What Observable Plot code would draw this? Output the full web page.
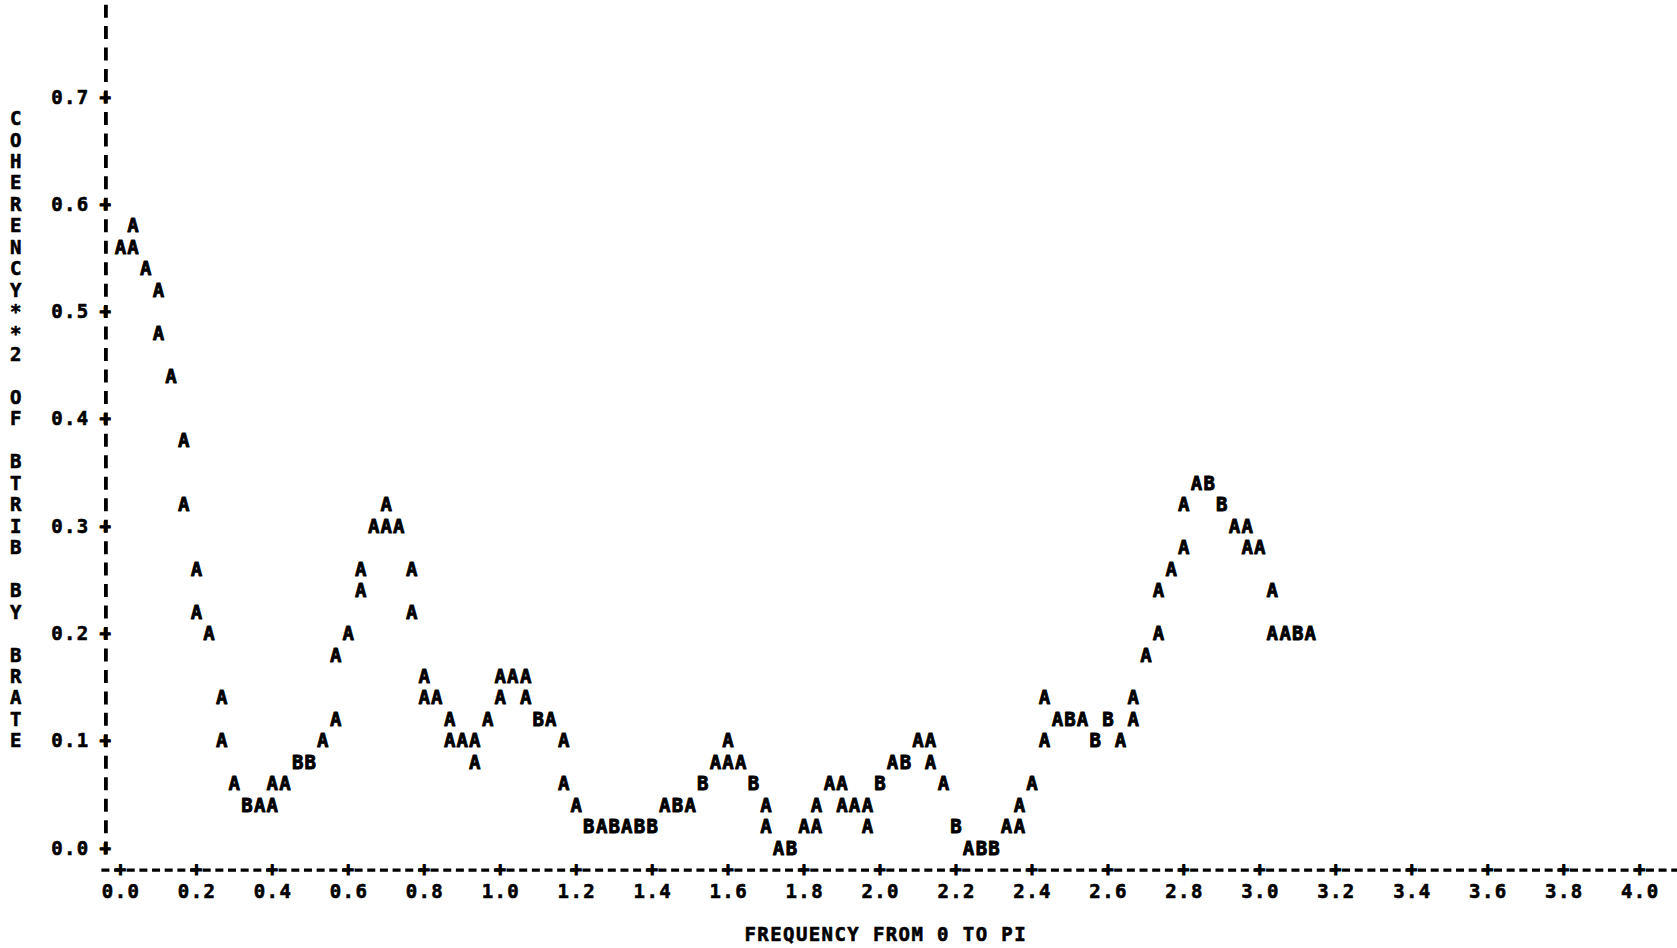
<!DOCTYPE html>
<html>
<head>
<meta charset="utf-8">
<script src="https://cdn.jsdelivr.net/npm/d3@7"></script>
<script src="https://cdn.jsdelivr.net/npm/@observablehq/plot@0.6"></script>
<style>
  html, body { margin: 0; padding: 0; background: #fff; }
  #chart svg { display: block; }
  #chart svg text { letter-spacing: 1.4px; }
</style>
</head>
<body>
<div id="chart"></div>
<script>
// Printer-plot cells: frequency (radians), coherency**2, number of observations in the cell (A = 1 obs, B = 2 obs)
const frequency = [
  0.000, 0.033, 0.033, 0.067, 0.100, 0.100, 0.133, 0.167, 0.167, 0.200,
  0.200, 0.233, 0.267, 0.267, 0.300, 0.333, 0.367, 0.400, 0.400, 0.433,
  0.467, 0.500, 0.533, 0.567, 0.567, 0.600, 0.633, 0.633, 0.667, 0.700,
  0.700, 0.733, 0.767, 0.767, 0.800, 0.800, 0.833, 0.867, 0.867, 0.900,
  0.933, 0.933, 0.967, 1.000, 1.000, 1.033, 1.067, 1.067, 1.100, 1.133,
  1.167, 1.167, 1.200, 1.233, 1.267, 1.300, 1.333, 1.367, 1.400, 1.433,
  1.467, 1.500, 1.533, 1.567, 1.600, 1.600, 1.633, 1.667, 1.700, 1.700,
  1.733, 1.767, 1.800, 1.833, 1.833, 1.867, 1.900, 1.900, 1.933, 1.967,
  1.967, 2.000, 2.033, 2.067, 2.100, 2.133, 2.133, 2.167, 2.200, 2.233,
  2.267, 2.300, 2.333, 2.367, 2.367, 2.400, 2.433, 2.433, 2.467, 2.500,
  2.533, 2.567, 2.600, 2.633, 2.667, 2.667, 2.700, 2.733, 2.733, 2.767,
  2.800, 2.800, 2.833, 2.867, 2.900, 2.933, 2.967, 2.967, 3.000, 3.033,
  3.033, 3.067, 3.100, 3.133
];
const coherency2 = [
  0.56, 0.58, 0.56, 0.54, 0.52, 0.48, 0.44, 0.38, 0.32, 0.26,
  0.22, 0.20, 0.14, 0.10, 0.06, 0.04, 0.04, 0.06, 0.04, 0.06,
  0.08, 0.08, 0.10, 0.18, 0.12, 0.20, 0.26, 0.24, 0.30, 0.32,
  0.30, 0.30, 0.26, 0.22, 0.16, 0.14, 0.14, 0.12, 0.10, 0.10,
  0.10, 0.08, 0.12, 0.16, 0.14, 0.16, 0.16, 0.14, 0.12, 0.12,
  0.10, 0.06, 0.04, 0.02, 0.02, 0.02, 0.02, 0.02, 0.02, 0.04,
  0.04, 0.04, 0.06, 0.08, 0.10, 0.08, 0.08, 0.06, 0.04, 0.02,
  0.00, 0.00, 0.02, 0.04, 0.02, 0.06, 0.06, 0.04, 0.04, 0.04,
  0.02, 0.06, 0.08, 0.08, 0.10, 0.10, 0.08, 0.06, 0.02, 0.00,
  0.00, 0.00, 0.02, 0.04, 0.02, 0.06, 0.14, 0.10, 0.12, 0.12,
  0.12, 0.10, 0.12, 0.10, 0.14, 0.12, 0.18, 0.24, 0.20, 0.26,
  0.32, 0.28, 0.34, 0.34, 0.32, 0.30, 0.30, 0.28, 0.28, 0.24,
  0.20, 0.20, 0.20, 0.20
];
const obsCount = [
  1, 1, 1, 1, 1, 1, 1, 1, 1, 1,
  1, 1, 1, 1, 1, 2, 1, 1, 1, 1,
  2, 2, 1, 1, 1, 1, 1, 1, 1, 1,
  1, 1, 1, 1, 1, 1, 1, 1, 1, 1,
  1, 1, 1, 1, 1, 1, 1, 1, 2, 1,
  1, 1, 1, 2, 1, 2, 1, 2, 2, 1,
  2, 1, 2, 1, 1, 1, 1, 2, 1, 1,
  1, 2, 1, 1, 1, 1, 1, 1, 1, 1,
  1, 2, 1, 2, 1, 1, 1, 1, 2, 1,
  2, 2, 1, 1, 1, 1, 1, 1, 1, 2,
  1, 2, 2, 1, 1, 1, 1, 1, 1, 1,
  1, 1, 1, 2, 2, 1, 1, 1, 1, 1,
  1, 1, 2, 1
];
const plotSymbols = ["A", "B"];

const xTicks = [0.0, 0.2, 0.4, 0.6, 0.8, 1.0, 1.2, 1.4, 1.6, 1.8, 2.0, 2.2, 2.4, 2.6, 2.8, 3.0, 3.2, 3.4, 3.6, 3.8, 4.0];
const xTickLabels = ["0.0", "0.2", "0.4", "0.6", "0.8", "1.0", "1.2", "1.4", "1.6", "1.8", "2.0", "2.2", "2.4", "2.6", "2.8", "3.0", "3.2", "3.4", "3.6", "3.8", "4.0"];
const yTicks = [0.0, 0.1, 0.2, 0.3, 0.4, 0.5, 0.6, 0.7];
const yTickLabels = ["0.0", "0.1", "0.2", "0.3", "0.4", "0.5", "0.6", "0.7"];
const xTitle = "FREQUENCY FROM 0 TO PI";
const yTitle = "COHERENCY**2 OF BTRIB BY BRATE";

// printer grid: one column = 1/30 in x, one row = 0.02 in y
const COL = 1 / 30, ROW = 0.02;
const FONT = "'DejaVu Sans Mono', 'Liberation Mono', monospace";

const cells = frequency.map((f, i) => ({f, c: coherency2[i], sym: plotSymbols[obsCount[i] - 1]}));
const xTickData = xTicks.map((v, i) => ({v, label: xTickLabels[i]}));
const yTickData = yTicks.map((v, i) => ({v, label: yTickLabels[i]}));
const yTitleChars = Array.from(yTitle).map((ch, i) => ({ch, row: i}));

const axisX = -1.2 * COL;          // column holding the vertical axis
const axisRowY = -ROW;             // row holding the horizontal axis
const rowPx = 0.02 * (848.1 - 97.0) / 0.7;

const textBase = {fontFamily: FONT, fontSize: 19, fontWeight: "bold", fill: "black"};

const chart = Plot.plot({
  width: 1677,
  height: 948,
  marginTop: 0, marginRight: 0, marginBottom: 0, marginLeft: 0,
  x: {domain: [0, 4], range: [120.6, 1639.8], axis: null},
  y: {domain: [0, 0.7], range: [848.1, 97.0], axis: null},
  style: {background: "white", color: "black", fontFamily: FONT},
  marks: [
    // vertical axis made of printer "|" bars
    Plot.ruleX([axisX], {
      y1: -ROW * (6.5 / rowPx), y2: 0.79,
      stroke: "black", strokeWidth: 3.8, strokeDasharray: `13,${(rowPx - 13).toFixed(2)}`
    }),
    // horizontal axis made of printer "-" dashes
    Plot.ruleY([axisRowY], {
      x1: -1.2 * COL - (4 / 12.66) * COL, x2: 123.3 * COL,
      stroke: "black", strokeWidth: 3.2, strokeDasharray: "8,4.66"
    }),
    // "+" tick marks
    Plot.text(yTickData, {x: () => axisX, y: "v", text: () => "+", ...textBase, stroke: "black", strokeWidth: 1}),
    Plot.text(xTickData, {x: "v", y: () => axisRowY, text: () => "+", ...textBase, stroke: "black", strokeWidth: 1}),
    // tick labels
    Plot.text(yTickData, {x: () => -4 * COL, y: "v", text: "label", ...textBase, stroke: "black", strokeWidth: 0.6}),
    Plot.text(xTickData, {x: "v", y: () => -2 * ROW, text: "label", ...textBase, stroke: "black", strokeWidth: 0.6}),
    // axis titles
    Plot.text([xTitle], {x: () => 60.4 * COL, y: () => -4 * ROW, text: d => d, ...textBase, stroke: "black", strokeWidth: 0.6}),
    Plot.text(yTitleChars, {x: () => -8.26 * COL, y: d => 0.68 - d.row * ROW, text: "ch", ...textBase, stroke: "black", strokeWidth: 0.6}),
    // the plotted observations
    Plot.text(cells, {x: "f", y: "c", text: "sym", ...textBase, stroke: "black", strokeWidth: 0.9})
  ]
});
document.getElementById("chart").appendChild(chart);
</script>
</body>
</html>
